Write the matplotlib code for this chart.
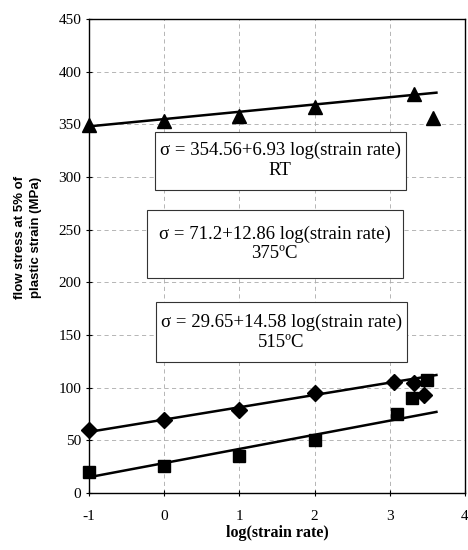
import matplotlib
matplotlib.use('Agg')
import matplotlib.pyplot as plt
from matplotlib.patches import Rectangle

plt.rcParams['axes.unicode_minus'] = False

rt_x = [-1, 0, 1, 2, 3.32, 3.57]
rt_y = [349, 353, 358, 366, 379, 356]
t375_x = [-1, 0, 1, 2, 3.05, 3.32, 3.45]
t375_y = [60, 69, 79, 95, 105, 104, 93]
t515_x = [-1, 0, 1, 2, 3.1, 3.3, 3.5]
t515_y = [20, 26, 35, 50, 75, 90, 107]

# fitted lines (end points as drawn)
fit_x = [-1, 3.62]
fit_rt = [348, 380]
fit_375 = [58, 112]
fit_515 = [15, 77]

eq_labels = ['\u03c3 = 354.56+6.93 log(strain rate)\nRT',
             '\u03c3 = 71.2+12.86 log(strain rate)\n375\u00baC',
             '\u03c3 = 29.65+14.58 log(strain rate)\n515\u00baC']

serif = ['Liberation Serif', 'DejaVu Serif']

fig = plt.figure(figsize=(4.68, 5.5), dpi=100)
ax = fig.add_axes([0.190, 0.1036, 0.8036, 0.862])

ax.grid(True, color='#aaaaaa', linestyle=(0, (5, 4)), linewidth=0.6)
ax.set_axisbelow(True)

ax.plot(fit_x, fit_rt, color='black', lw=1.8)
ax.plot(fit_x, fit_375, color='black', lw=1.8)
ax.plot(fit_x, fit_515, color='black', lw=1.8)
ax.plot(rt_x, rt_y, '^', color='black', ms=10, clip_on=False)
ax.plot(t375_x, t375_y, 'D', color='black', ms=8, clip_on=False)
ax.plot(t515_x, t515_y, 's', color='black', ms=8, clip_on=False)

# equation boxes: (x0, y0, width, height) in data units
boxes = [(-0.12, 288, 3.33, 55), (-0.23, 204, 3.40, 65), (-0.11, 124, 3.34, 57)]
for (bx, by, bw, bh), lab in zip(boxes, eq_labels):
    ax.add_patch(Rectangle((bx, by), bw, bh, facecolor='white', edgecolor='#333333', lw=0.8, zorder=3))
    ax.text(bx + bw / 2, by + bh / 2, lab, ha='center', va='center', fontsize=13.5,
            family=serif, linespacing=1.2, zorder=4)

ax.set_xlim(-1, 4)
ax.set_ylim(0, 450)
ax.set_xticks([-1, 0, 1, 2, 3, 4])
ax.set_yticks(range(0, 451, 50))
ax.tick_params(labelsize=11, length=4, width=0.8, direction='inout')
for lbl in ax.get_xticklabels() + ax.get_yticklabels():
    lbl.set_family(serif)
ax.tick_params(axis='x', pad=10)

for s in ax.spines.values():
    s.set_linewidth(1.0)

ax.set_xlabel('log(strain rate)', fontsize=11.5, fontweight='bold', family=serif, labelpad=2)
ax.set_ylabel('flow stress at 5% of\nplastic strain (MPa)', fontsize=9.5, fontweight='bold',
              family=['Liberation Sans', 'DejaVu Sans'], linespacing=1.4)
ax.yaxis.set_label_coords(-0.125, 0.54)

fig.savefig('out.png', dpi=100)
plt.close()
